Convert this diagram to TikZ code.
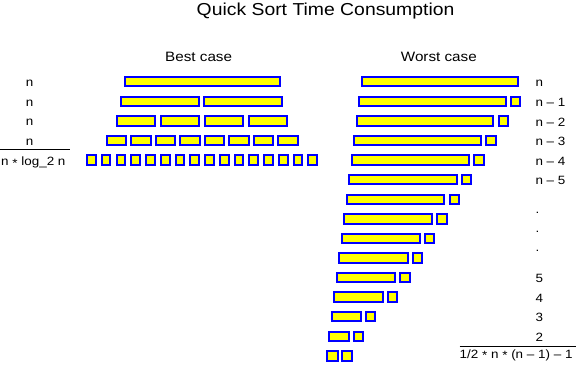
\documentclass[tikz,border=0pt]{standalone}
\usepackage{fontspec}
\setmainfont[FakeStretch=1.12]{Liberation Sans}
\definecolor{barfill}{RGB}{255,255,0}
\definecolor{barline}{RGB}{0,0,255}
\newcommand{\myast}{\raisebox{-0.25ex}{*}}
\begin{document}
\begin{tikzpicture}[x=1pt,y=-1pt,
  bar/.style={fill=barfill,draw=barline,line width=2pt},
  lab/.style={font=\fontsize{12}{14}\selectfont,inner sep=0pt,anchor=base west},
  labc/.style={font=\fontsize{12}{14}\selectfont,inner sep=0pt,anchor=base},
  head/.style={font=\fontsize{13.6}{16}\selectfont,inner sep=0pt,anchor=base west},
  sumline/.style={draw=black,line width=1pt}]
\useasboundingbox (0,0) rectangle (579,366);
% title and headings
\node[font=\fontsize{17.3}{20}\selectfont,inner sep=0pt,anchor=base west] (title) at (196.5,15.7) {Quick Sort Time Consumption};
\node[head] (best) at (165,61.7) {Best case};
\node[head] (worst) at (400.7,61.7) {Worst case};
% best case bars
\foreach \t/\s/\p/\w/\n in {76/123.5/0/157/0, 95.6/120.3/83/79.5/1, 115.2/115.5/44/40.8/3, 134.8/105.5/24.5/21.5/7, 154.4/86/14.76/10.7/15}{
  \foreach \j in {0,...,\n}{
    \path[bar] ({\s+\j*\p+1},{\t+1}) rectangle ({\s+\j*\p+\w-1},{\t+10.4});
  }
}
% worst case bars
\foreach \i/\r in {1/519, 2/506.7, 3/494.3, 4/482, 5/470, 6/457.7, 7/445.3, 8/433, 9/420.8, 10/408.6, 11/396, 12/383.7, 13/361.7, 14/349.7}{
  \pgfmathsetmacro{\t}{76+19.59*(\i-1)}
  \pgfmathsetmacro{\l}{360.7-2.48*(\i-1)}
  \path[bar] ({\l+1},{\t+1}) rectangle ({\r-1},{\t+10.4});
  \ifnum\i>1
    \path[bar] ({\r+3.4+1},{\t+1}) rectangle ({\r+3.4+11.2-1},{\t+10.4});
  \fi
}
\path[bar] (327,351.3) rectangle (337.5,360.7);
\path[bar] (342.2,351.3) rectangle (351.7,360.7);
% left labels
\node[labc] (l1) at (29.7,86.7) {n};
\node[labc] (l2) at (29.7,106.3) {n};
\node[labc] (l3) at (29.7,125.9) {n};
\node[labc] (l4) at (29.7,145.5) {n};
\coordinate (ls) at (0,150);
\coordinate (le) at (70,150);
\draw[sumline] (ls) -- (le);
\node[lab] (l5) at (1,165.5) {n \myast{} log\_2 n};
% right labels
\node[lab] (r1) at (535.3,87) {n};
\node[lab] (r2) at (535.3,106.6) {n – 1};
\node[lab] (r3) at (535.3,126.2) {n – 2};
\node[lab] (r4) at (535.3,145.8) {n – 3};
\node[lab] (r5) at (535.3,165.4) {n – 4};
\node[lab] (r6) at (535.3,184.9) {n – 5};
\node[lab] (d1) at (535.3,213.5) {.};
\node[lab] (d2) at (535.3,232.5) {.};
\node[lab] (d3) at (535.3,252) {.};
\node[lab] (r11) at (535.3,282.8) {5};
\node[lab] (r12) at (535.3,302.3) {4};
\node[lab] (r13) at (535.3,321.9) {3};
\node[lab] (r14) at (535.3,341.4) {2};
\coordinate (rs) at (459.5,347);
\coordinate (re) at (575.5,347);
\draw[sumline] (rs) -- (re);
\node[lab] (tot) at (459.5,358.3) {1/2 \myast{} n \myast{} (n – 1) – 1};
\end{tikzpicture}
\end{document}
